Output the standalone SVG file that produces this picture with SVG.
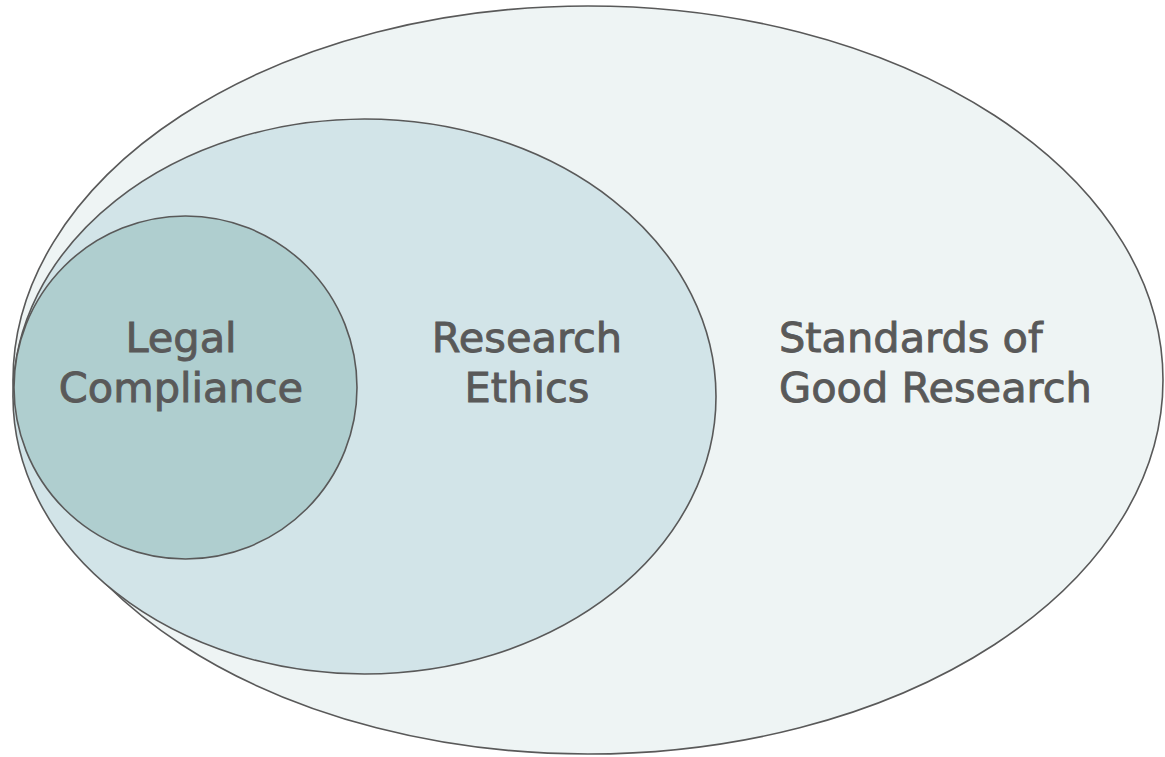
<svg xmlns="http://www.w3.org/2000/svg" width="1165" height="757" viewBox="0 0 1165 757">
<style>
.sh{stroke:#595959;stroke-width:1.6}
.t{font-family:"DejaVu Sans","Liberation Sans",sans-serif;font-size:41.5px;fill:#595959;stroke:#595959;stroke-width:0.9}
</style>
<rect width="1165" height="757" fill="#ffffff"/>
<g id="standards">
<ellipse class="sh" cx="588" cy="380" rx="575" ry="374" fill="#EEF4F4"/>
</g>
<g id="ethics">
<ellipse class="sh" cx="364.5" cy="396.5" rx="351.5" ry="277.5" fill="#D2E4E8"/>
</g>
<g id="legal">
<ellipse class="sh" cx="185.5" cy="387.5" rx="171.5" ry="171.5" fill="#AFCECF"/>
</g>
<g id="labels">
<text class="t" x="181" y="352" text-anchor="middle">Legal</text>
<text class="t" x="181" y="402" text-anchor="middle">Compliance</text>
<text class="t" x="527" y="352" text-anchor="middle">Research</text>
<text class="t" x="527" y="402" text-anchor="middle">Ethics</text>
<text class="t" x="779" y="352">Standards of</text>
<text class="t" x="779" y="402">Good Research</text>
</g>
<g id="connectors"></g>
</svg>
